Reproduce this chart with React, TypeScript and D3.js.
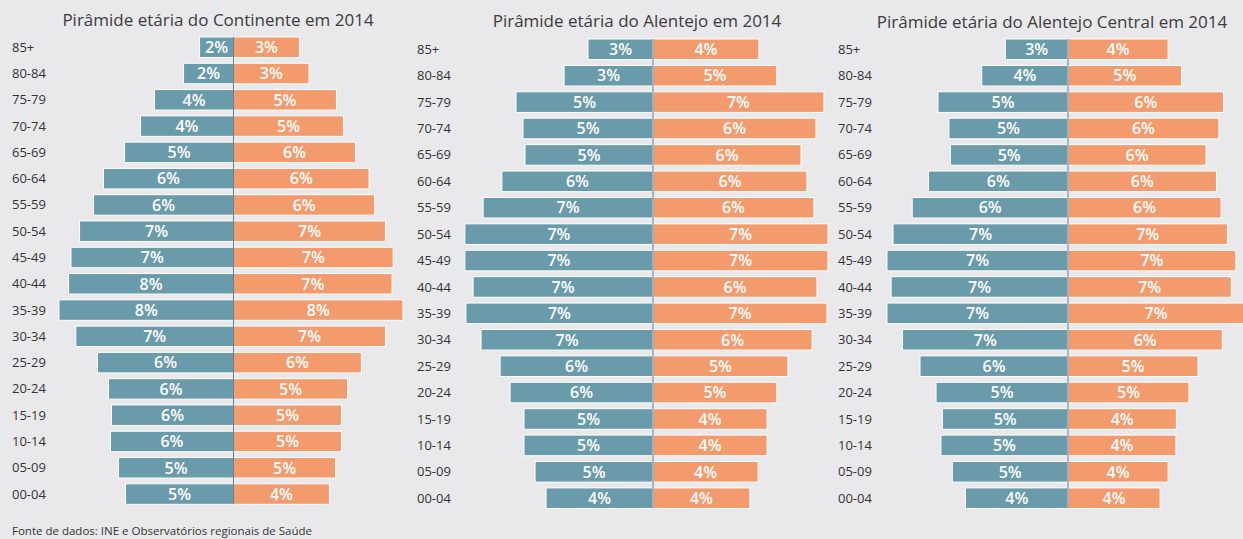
import * as React from 'react';
import * as d3 from 'd3';

const ages = ['85+', '80-84', '75-79', '70-74', '65-69', '60-64', '55-59', '50-54', '45-49', '40-44', '35-39', '30-34', '25-29', '20-24', '15-19', '10-14', '05-09', '00-04'];

const continenteM = [1.55, 2.28, 3.61, 4.25, 4.98, 5.94, 6.39, 7.03, 7.42, 7.53, 7.97, 7.2, 6.21, 5.71, 5.57, 5.62, 5.25, 4.93];
const continenteF = [3.01, 3.45, 4.7, 5.02, 5.57, 6.19, 6.45, 6.94, 7.29, 7.24, 7.74, 6.94, 5.84, 5.21, 4.93, 4.93, 4.66, 4.38];

const alentejoM = [2.53, 3.46, 5.33, 5.06, 4.98, 5.88, 6.61, 7.32, 7.32, 7.0, 7.28, 6.69, 5.95, 5.56, 5.02, 5.02, 4.59, 4.16];
const alentejoF = [4.12, 4.82, 6.65, 6.34, 5.76, 5.99, 6.26, 6.81, 6.81, 6.38, 6.77, 6.19, 5.25, 4.82, 4.44, 4.44, 4.09, 3.77];

const centralM = [2.58, 3.55, 5.35, 4.9, 4.84, 5.74, 6.41, 7.2, 7.45, 7.28, 7.45, 6.81, 6.09, 5.43, 5.17, 5.23, 4.76, 4.22];
const centralF = [4.12, 4.67, 6.4, 6.21, 5.68, 6.11, 6.3, 6.56, 6.91, 6.72, 7.25, 6.35, 5.35, 4.98, 4.46, 4.44, 4.12, 3.79];

const titles = [
  'Pirâmide etária do Continente em 2014',
  'Pirâmide etária do Alentejo em 2014',
  'Pirâmide etária do Alentejo Central em 2014'
];

const source = 'Fonte de dados: INE e Observatórios regionais de Saúde';

const W = 1243;
const H = 539;
const BLUE = '#6a9bab';
const ORANGE = '#f39b6d';
const FONT = '"Open Sans", sans-serif';

// layout per panel: center of the axis, px per 1%, first/last bar edges, label x, title center
const panels = [
  { m: continenteM, f: continenteF, cx: 233.5, k: 21.9, top: 37, bottom: 504.3, labelX: 12, titleX: 218, titleY: 26 },
  { m: alentejoM, f: alentejoF, cx: 653, k: 25.7, top: 39, bottom: 508.5, labelX: 417, titleX: 637, titleY: 27 },
  { m: centralM, f: centralF, cx: 1068, k: 24.3, top: 39, bottom: 508.5, labelX: 838, titleX: 1052, titleY: 28 }
];

const App = () => {
  const nodeRef = React.useRef(null);

  React.useEffect(() => {
    const svg = d3.select(nodeRef.current);
    svg.selectAll('*').remove();

    svg
      .append('rect')
      .attr('width', W)
      .attr('height', H)
      .attr('fill', '#e9e9eb');

    panels.forEach((p, i) => {
      const y = d3
        .scaleBand()
        .domain(ages)
        .range([p.top, p.bottom])
        .paddingInner(0.22)
        .paddingOuter(0);

      const x = d3
        .scaleLinear()
        .domain([0, 8])
        .range([0, 8 * p.k]);

      const g = svg.append('g');

      g.append('text')
        .attr('x', p.titleX)
        .attr('y', p.titleY)
        .attr('text-anchor', 'middle')
        .attr('font-family', FONT)
        .attr('font-size', 17)
        .attr('fill', '#3c3c3c')
        .text(titles[i]);

      g.selectAll('.age')
        .data(ages)
        .enter()
        .append('text')
        .attr('class', 'age')
        .attr('x', p.labelX)
        .attr('y', d => y(d) + y.bandwidth() / 2)
        .attr('dy', '0.35em')
        .attr('font-family', FONT)
        .attr('font-size', 13)
        .attr('fill', '#333')
        .text(d => d);

      const rows = ages.map((a, j) => ({ age: a, m: p.m[j], f: p.f[j] }));

      g.selectAll('.bar-m')
        .data(rows)
        .enter()
        .append('rect')
        .attr('class', 'bar-m')
        .attr('x', d => p.cx - x(d.m))
        .attr('y', d => y(d.age))
        .attr('width', d => x(d.m))
        .attr('height', y.bandwidth())
        .attr('fill', BLUE)
        .attr('stroke', '#fff')
        .attr('stroke-width', 1);

      g.selectAll('.bar-f')
        .data(rows)
        .enter()
        .append('rect')
        .attr('class', 'bar-f')
        .attr('x', p.cx)
        .attr('y', d => y(d.age))
        .attr('width', d => x(d.f))
        .attr('height', y.bandwidth())
        .attr('fill', ORANGE)
        .attr('stroke', '#fff')
        .attr('stroke-width', 1);

      g.append('line')
        .attr('x1', p.cx)
        .attr('x2', p.cx)
        .attr('y1', p.top)
        .attr('y2', p.bottom)
        .attr('stroke', '#5f8593')
        .attr('stroke-width', 1);

      const label = (v: number) => Math.round(v) + '%';

      g.selectAll('.lab-m')
        .data(rows)
        .enter()
        .append('text')
        .attr('class', 'lab-m')
        .attr('x', d => p.cx - x(d.m) / 2)
        .attr('y', d => y(d.age) + y.bandwidth() / 2)
        .attr('dy', '0.36em')
        .attr('text-anchor', 'middle')
        .attr('font-family', FONT)
        .attr('font-weight', 600)
        .attr('font-size', 16)
        .attr('fill', '#fff')
        .text(d => label(d.m));

      g.selectAll('.lab-f')
        .data(rows)
        .enter()
        .append('text')
        .attr('class', 'lab-f')
        .attr('x', d => p.cx + x(d.f) / 2)
        .attr('y', d => y(d.age) + y.bandwidth() / 2)
        .attr('dy', '0.36em')
        .attr('text-anchor', 'middle')
        .attr('font-family', FONT)
        .attr('font-weight', 600)
        .attr('font-size', 16)
        .attr('fill', '#fff')
        .text(d => label(d.f));
    });

    svg
      .append('text')
      .attr('x', 12)
      .attr('y', 535)
      .attr('font-family', FONT)
      .attr('font-size', 11.5)
      .attr('fill', '#333')
      .text(source);
  }, []);

  return (
    <svg
      ref={nodeRef}
      width={W}
      height={H}
      style={{ position: 'absolute', left: 0, top: 0, display: 'block' }}
    />
  );
};

export default App;
